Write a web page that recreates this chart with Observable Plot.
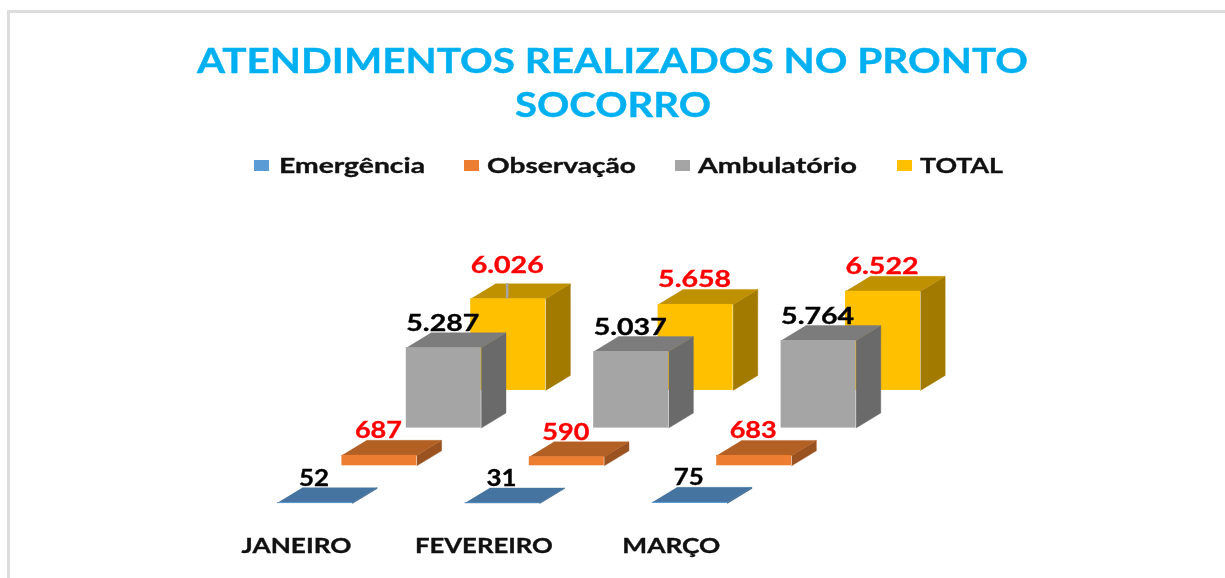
<!DOCTYPE html>
<html><head><meta charset="utf-8">
<script src="https://cdn.jsdelivr.net/npm/d3@7"></script>
<script src="https://cdn.jsdelivr.net/npm/@observablehq/plot@0.6"></script>
<style>
html,body{margin:0;padding:0;background:#fff;overflow:hidden}
#page{position:relative;width:1225px;height:578px;overflow:hidden;filter:blur(0.5px)}
#frame{position:absolute;left:7px;top:10px;right:-10px;bottom:-10px;border:3px solid #dcdcdc}
.title{position:absolute;color:#00b0f0;font:bold 35px/44px Lato,sans-serif;white-space:nowrap;transform-origin:0 50%;-webkit-text-stroke:0.4px #00b0f0}
.item{position:absolute;top:152px;font:bold 21px/26px Lato,sans-serif;color:#111;white-space:nowrap;transform-origin:0 50%;-webkit-text-stroke:0.35px #111}
.sw{position:absolute;top:160px;width:15px;height:11px}
#chart{position:absolute;left:0;top:190px}
#chart svg{display:block}
</style></head><body>
<div id="page">
<div id="frame"></div>
<div id="titles"></div>
<div id="legend"></div>
<div id="chart"></div>
</div>
<script>
const titleLines = ["ATENDIMENTOS REALIZADOS NO PRONTO", "SOCORRO"];
const titleX = [197, 515], titleW = [831, 196], titleY = [37, 81];
const months = ["JANEIRO", "FEVEREIRO", "MARÇO"];
const monthW = [110, 138, 98];
const seriesNames = ["Emergência", "Observação", "Ambulatório", "TOTAL"];
const emergencia = [52, 31, 75];
const observacao = [687, 590, 683];
const ambulatorio = [5287, 5037, 5764];
const total = [6026, 5658, 6522];
const seriesValues = [emergencia, observacao, ambulatorio, total];
const frontColors = ["#5b9bd5", "#ed7d31", "#a5a5a5", "#ffc000"];
const topColors = ["#44749f", "#b36024", "#7c7c7c", "#bf9000"];
const sideColors = ["#3a6388", "#9a5320", "#6a6a6a", "#a37a00"];
const labelColors = ["#000000", "#ff0000", "#000000", "#ff0000"];
const legendSwatchX = [254, 464, 675, 897];
const legendTextX = [279, 487, 698, 920];
const legendW = [146, 149, 159, 83];

// Oblique projection of the 3D column chart, in scale units
const pxU = 187.4, pxV = 0.0152;
const seriesStepX = 64.4 / pxU, seriesStepY = 37.7 / pxV;
const barW = 75 / pxU, depthX = 24.7 / pxU, depthY = 15 / pxV;

const fmt = v => v >= 1000 ? d3.format(",")(v).replace(",", ".") : String(v);

const bars = [];
seriesValues.forEach((vals, s) => vals.forEach((value, m) => {
  const x0 = m + s * seriesStepX, y0 = s * seriesStepY;
  bars.push({s, m, value, x0, x1: x0 + barW, y0, y1: y0 + value, month: months[m]});
}));

function faces(b) {
  const top = [[b.x0,b.y1],[b.x1,b.y1],[b.x1+depthX,b.y1+depthY],[b.x0+depthX,b.y1+depthY]]
    .map(([x,y]) => ({x, y, z:`t${b.s}-${b.m}`, color: topColors[b.s]}));
  const side = [[b.x1,b.y0],[b.x1+depthX,b.y0+depthY],[b.x1+depthX,b.y1+depthY],[b.x1,b.y1]]
    .map(([x,y]) => ({x, y, z:`s${b.s}-${b.m}`, color: sideColors[b.s]}));
  return [...side, ...top];
}

const marks = [];
for (let s = 3; s >= 0; s--) {
  const sb = bars.filter(b => b.s === s);
  marks.push(
    Plot.line(sb.flatMap(faces), {x:"x", y:"y", z:"z", fill:"color", stroke:"color", strokeWidth:0.4}),
    Plot.rect(sb, {x1:"x0", x2:"x1", y1:"y0", y2:"y1", fill: frontColors[s]})
  );
}
// thin leader line above the January TOTAL front face; its label sits higher than the others
const isLeader = b => b.s === 3 && b.m === 0;
marks.push(Plot.ruleX(bars.filter(isLeader), {x: b => (b.x0 + b.x1) / 2 - 1 / pxU, y1: "y1", y2: b => b.y1 + depthY, stroke:"#a5a5a5", strokeWidth:2.5}));
marks.push(Plot.text(bars, {
  x: b => (b.x0 + b.x1) / 2 - 1 / pxU,
  y: b => b.y1 + depthY + (isLeader(b) ? 9 / pxV : 0),
  dy: -9,
  text: b => fmt(b.value),
  fill: b => labelColors[b.s],
  fontFamily: "Lato", fontWeight: "bold", fontSize: 22
}));
marks.push(Plot.axisX({
  ticks: [0, 1, 2],
  tickFormat: i => months[i],
  tickSize: 0, tickPadding: 5, dx: 19, label: null,
  fontFamily: "Lato", fontWeight: "bold", fontSize: 21, color: "#111"
}));

const H = 388, mB = 45;
const plot = Plot.plot({
  width: 1225, height: H,
  marginLeft: 0, marginRight: 0, marginTop: 0, marginBottom: mB,
  style: {background: "transparent", overflow: "visible"},
  x: {domain: [-277 / pxU, (1225 - 277) / pxU], axis: null},
  y: {domain: [(190 + H - mB - 503) / -pxV, (503 - 190) / pxV], axis: null},
  color: {type: "identity"},
  marks
});
document.getElementById("chart").append(plot);

// the reference's lettering is horizontally stretched: fit each text to its measured width
d3.select(plot).selectAll("text").each(function() {
  const t = this.textContent;
  const i = months.indexOf(t);
  const w = i >= 0 ? monthW[i] : t.length === 5 ? 73 : t.length === 3 ? 47 : 30;
  this.setAttribute("textLength", w);
  this.setAttribute("lengthAdjust", "spacingAndGlyphs");
  this.style.stroke = getComputedStyle(this).fill;
  this.style.strokeWidth = "0.35px";
});

function fit(el, w) {
  const m = el.getBoundingClientRect().width;
  el.style.transform = `scaleX(${w / m})`;
}
const titles = document.getElementById("titles");
titleLines.forEach((l, i) => {
  const d = document.createElement("div");
  d.className = "title"; d.textContent = l;
  d.style.left = titleX[i] + "px"; d.style.top = titleY[i] + "px";
  titles.append(d); fit(d, titleW[i]);
});
const legend = document.getElementById("legend");
seriesNames.forEach((n, i) => {
  const sw = document.createElement("div");
  sw.className = "sw"; sw.style.left = legendSwatchX[i] + "px"; sw.style.background = frontColors[i];
  const t = document.createElement("div");
  t.className = "item"; t.style.left = legendTextX[i] + "px"; t.textContent = n;
  legend.append(sw, t); fit(t, legendW[i]);
});
</script>
</body></html>
